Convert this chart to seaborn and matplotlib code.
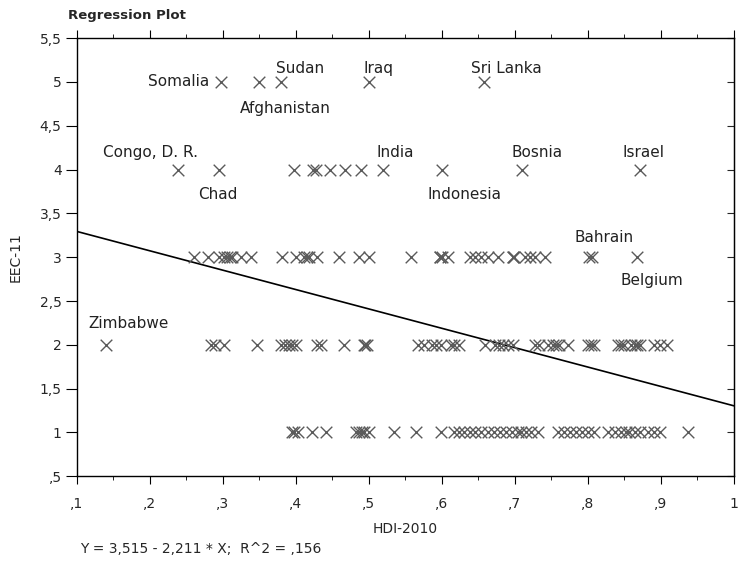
import numpy as np
import pandas as pd
import seaborn as sns
import matplotlib.pyplot as plt

# HDI-2010 values, one list per EEC-11 level
hdi_eec5 = [0.298, 0.349, 0.379, 0.500, 0.658]
hdi_eec4 = [0.239, 0.295, 0.397, 0.423, 0.427, 0.447, 0.467, 0.489, 0.519,
            0.600, 0.710, 0.872]
hdi_eec3 = [0.261, 0.279, 0.295, 0.302, 0.306, 0.310, 0.313, 0.325, 0.339,
            0.381, 0.400, 0.411, 0.415, 0.418, 0.429, 0.459, 0.486, 0.500,
            0.558, 0.597, 0.598, 0.600, 0.609, 0.639, 0.646, 0.653, 0.663,
            0.677, 0.697, 0.698, 0.699, 0.714, 0.721, 0.728, 0.741, 0.801,
            0.806, 0.867]
hdi_eec2 = [0.140, 0.284, 0.289, 0.302, 0.347, 0.380, 0.385, 0.390, 0.395,
            0.400, 0.429, 0.434, 0.466, 0.493, 0.495, 0.497, 0.568, 0.575,
            0.586, 0.592, 0.599, 0.612, 0.617, 0.623, 0.659, 0.673, 0.678,
            0.684, 0.691, 0.698, 0.728, 0.733, 0.745, 0.752, 0.756, 0.760,
            0.773, 0.800, 0.805, 0.809, 0.841, 0.846, 0.850, 0.859, 0.864,
            0.868, 0.872, 0.891, 0.899, 0.909]
hdi_eec1 = [0.395, 0.398, 0.403, 0.422, 0.441, 0.483, 0.487, 0.491, 0.494,
            0.500, 0.534, 0.564, 0.599, 0.616, 0.623, 0.631, 0.639, 0.646,
            0.654, 0.663, 0.672, 0.680, 0.688, 0.696, 0.704, 0.708, 0.715,
            0.722, 0.732, 0.759, 0.767, 0.775, 0.784, 0.792, 0.800, 0.808,
            0.827, 0.837, 0.845, 0.852, 0.857, 0.864, 0.872, 0.882, 0.891,
            0.899, 0.937]

# labelled countries
label_names = ['Somalia', 'Afghanistan', 'Sudan', 'Iraq', 'Sri Lanka',
               'Congo, D. R.', 'Chad', 'India', 'Indonesia', 'Bosnia', 'Israel',
               'Bahrain', 'Belgium', 'Zimbabwe']
label_hdi = [0.298, 0.349, 0.379, 0.500, 0.658, 0.239, 0.295, 0.519, 0.600,
             0.710, 0.872, 0.801, 0.867, 0.140]
label_eec = [5, 5, 5, 5, 5, 4, 4, 4, 4, 4, 4, 3, 3, 2]
# text offsets in points (style only)
label_offsets = [(-9, 0), (19, -19), (14, 10), (7, 10), (16, 10),
                 (-20, 12), (-1, -18), (9, 12), (16, -18), (11, 12), (2, 12),
                 (11, 14), (11, -16.5), (16, 15)]
label_ha = ['right'] + ['center'] * 13

intercept = 3.515
slope = -2.211
r_squared = 0.156

x_ticks = [0.1, 0.2, 0.3, 0.4, 0.5, 0.6, 0.7, 0.8, 0.9, 1.0]
x_ticklabels = [',1', ',2', ',3', ',4', ',5', ',6', ',7', ',8', ',9', '1']
y_ticks = [0.5, 1, 1.5, 2, 2.5, 3, 3.5, 4, 4.5, 5, 5.5]
y_ticklabels = [',5', '1', '1,5', '2', '2,5', '3', '3,5', '4', '4,5', '5', '5,5']

df = pd.concat([
    pd.DataFrame({'HDI-2010': h, 'EEC-11': lvl})
    for h, lvl in [(hdi_eec5, 5), (hdi_eec4, 4), (hdi_eec3, 3),
                   (hdi_eec2, 2), (hdi_eec1, 1)]
], ignore_index=True)

sns.set_style('white')
plt.rcParams['font.family'] = ['DejaVu Sans']

fig = plt.figure(figsize=(7.39, 5.69), dpi=100)
ax = fig.add_axes([0.104, 0.163, 0.889, 0.770])

sns.scatterplot(data=df, x='HDI-2010', y='EEC-11', marker='x', s=70,
                color='#5a5a5a', linewidth=1.0, ax=ax, zorder=3)

line_x = np.array([x_ticks[0], x_ticks[-1]])
sns.lineplot(x=line_x, y=intercept + slope * line_x, color='black',
             linewidth=1.2, ax=ax)

for name, hx, ey, off, ha in zip(label_names, label_hdi, label_eec,
                                 label_offsets, label_ha):
    ax.annotate(name, (hx, ey), xytext=off, textcoords='offset points',
                ha=ha, va='center', fontsize=11, color='#222222')

ax.set_xlim(0.1, 1.0)
ax.set_ylim(0.5, 5.5)
ax.set_xticks(x_ticks)
ax.set_xticklabels(x_ticklabels, fontsize=10)
ax.set_xticks(np.arange(0.15, 1.0, 0.1), minor=True)
ax.set_yticks(y_ticks)
ax.set_yticklabels(y_ticklabels, fontsize=10)

for sp in ax.spines.values():
    sp.set_color('black')
    sp.set_linewidth(1.0)
ax.tick_params(axis='x', which='major', direction='out', length=6,
               top=True, bottom=True, pad=9, color='black')
ax.tick_params(axis='x', which='minor', direction='out', length=3,
               top=True, bottom=True, color='black')
ax.tick_params(axis='y', which='major', direction='out', length=8,
               left=True, right=False, pad=3, color='black')
sec = ax.secondary_yaxis('right')
sec.set_yticks(y_ticks)
sec.tick_params(direction='in', length=5, labelright=False)

ax.set_xlabel('HDI-2010', fontsize=10, labelpad=8)
ax.set_ylabel('EEC-11', fontsize=10, labelpad=12)

fig.text(0.092, 0.985, 'Regression Plot', fontsize=9.5, fontweight='bold',
         va='top', ha='left')
fig.text(0.108, 0.022,
         'Y = {:.3f} - {:.3f} * X;  R^2 = {}'.format(
             intercept, -slope, ('%.3f' % r_squared)[1:]).replace('.', ','),
         fontsize=10, va='bottom', ha='left')

fig.savefig('out.png', dpi=100)
